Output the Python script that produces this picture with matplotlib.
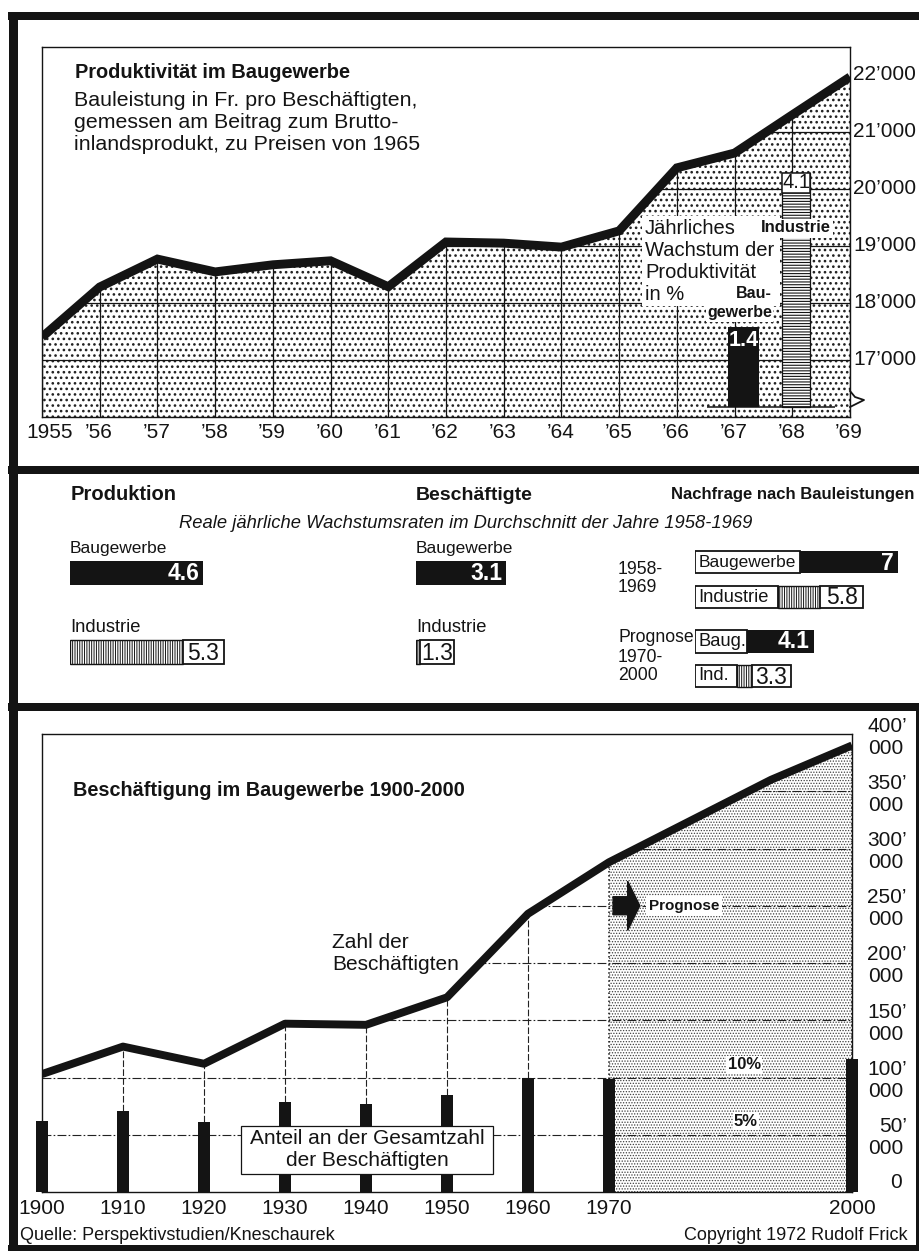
import matplotlib
matplotlib.use("Agg")
import matplotlib.pyplot as plt
from matplotlib import font_manager
from matplotlib.patches import Polygon, Rectangle, FancyArrow
import numpy as np

W, H = 919, 1251
INK = '#141414'

# Produktivität im Baugewerbe, Fr. pro Beschäftigten (Preise 1965)
prod_years = list(range(1955, 1970))
prod_values = [17400, 18280, 18770, 18545, 18670, 18740, 18285, 19070,
               19050, 18980, 19265, 20370, 20630, 21300, 21965]
prod_year_labels = ['1955', '’56', '’57', '’58', '’59', '’60', '’61', '’62',
                    '’63', '’64', '’65', '’66', '’67', '’68', '’69']
prod_ticks = [17000, 18000, 19000, 20000, 21000, 22000]
prod_tick_labels = ['17’000', '18’000', '19’000', '20’000', '21’000', '22’000']
growth_sectors = ['Baugewerbe', 'Industrie']
growth_rates = [1.4, 4.1]          # jährliches Wachstum der Produktivität in %

# Reale jährliche Wachstumsraten 1958-1969
production_rates = [4.6, 5.3]      # Baugewerbe, Industrie
employment_rates = [3.1, 1.3]
demand_labels = ['Baugewerbe', 'Industrie']
demand_short = ['Baug.', 'Ind.']
demand_1958_1969 = [7, 5.8]
demand_1970_2000 = [4.1, 3.3]

# Beschäftigung im Baugewerbe 1900-2000
emp_years = [1900, 1910, 1920, 1930, 1940, 1950, 1960, 1970, 1980, 1990, 2000]
emp_values = [103000, 127000, 112000, 147000, 146000, 170000, 243000,
              288000, 324000, 360000, 390000]
share_years = [1900, 1910, 1920, 1930, 1940, 1950, 1960, 1970, 2000]
share_pct = [6.2, 7.1, 6.1, 7.9, 7.7, 8.5, 10.0, 9.9, 11.6]
emp_xticks = [1900, 1910, 1920, 1930, 1940, 1950, 1960, 1970, 2000]
emp_ticks = [50000, 100000, 150000, 200000, 250000, 300000, 350000, 400000]
emp_tick_labels = ['50’', '100’', '150’', '200’', '250’', '300’', '350’', '400’']

plt.rcParams['font.family'] = ['Liberation Sans', 'DejaVu Sans']
names = {f.name for f in font_manager.fontManager.ttflist}
NARROW = 'Liberation Sans Narrow' in names
COND = ['Liberation Sans Narrow', 'DejaVu Sans'] if NARROW else ['Liberation Sans', 'DejaVu Sans']
if NARROW:
    SZ = dict(head=15.5, nach=14.4, sub=15.5, lab=15, num=19, year=15)
else:
    SZ = dict(head=14.5, nach=12, sub=13.2, lab=12.5, num=16.5, year=12.7)

fig = plt.figure(figsize=(W / 100, H / 100), dpi=100)
fig.patch.set_facecolor('white')


def px_axes(x0, y0, x1, y1):
    return fig.add_axes([x0 / W, 1 - y1 / H, (x1 - x0) / W, (y1 - y0) / H])


def style_spines(ax):
    ax.set_xticks([])
    ax.set_yticks([])
    for s in ax.spines.values():
        s.set_linewidth(1.0)
        s.set_color(INK)


# ---------------- top panel ----------------
ax1 = px_axes(42, 47, 850, 417)
ax1.set_xlim(prod_years[0], prod_years[-1])
ax1.set_ylim(16000, 22490)
style_spines(ax1)

with plt.rc_context({'hatch.linewidth': 1.1}):
    dots = ax1.fill_between(prod_years, 16000, prod_values, facecolor='white',
                            edgecolor='#202020', hatch='...', linewidth=0, zorder=1)

clip1 = Polygon([(prod_years[0], 16000)] + list(zip(prod_years, prod_values)) +
                [(prod_years[-1], 16000)], closed=True, transform=ax1.transData,
                fc='none', ec='none')
ax1.add_patch(clip1)
hl = ax1.hlines(prod_ticks, prod_years[0], prod_years[-1], color=INK, lw=0.9, zorder=2)
hl.set_clip_path(clip1)
ax1.vlines(prod_years, 16000, prod_values, color=INK, lw=0.9, zorder=2)
ax1.plot(prod_years, prod_values, color=INK, lw=6.4, solid_joinstyle='miter',
         solid_capstyle='butt', zorder=5)

for yr, lab in zip(prod_years, prod_year_labels):
    dx = 8 if yr == prod_years[0] else -1
    ax1.annotate(lab, xy=(yr, 0), xycoords=('data', 'axes fraction'),
                 xytext=(dx, -16), textcoords='offset pixels',
                 ha='center', va='center', fontsize=15, color=INK)
for v, lab in zip(prod_ticks, prod_tick_labels):
    ax1.annotate(lab, xy=(1, v), xycoords=('axes fraction', 'data'),
                 xytext=(3, 0), textcoords='offset pixels',
                 ha='left', va='center', fontsize=15, color=INK)

# inset bars: growth of productivity
base = 16175
bar_x = [1967.15, 1968.07]
ax1.bar(bar_x[0], growth_rates[0] * 1000, bottom=base, width=0.54, color=INK, zorder=6)
with plt.rc_context({'hatch.linewidth': 0.8}):
    ax1.bar(bar_x[1], growth_rates[1] * 1000, bottom=base, width=0.49, facecolor='white',
            edgecolor=INK, hatch='------', lw=0.9, zorder=6)
top_ind = base + growth_rates[1] * 1000
ax1.bar(bar_x[1], 340, bottom=top_ind - 340, width=0.49, facecolor='white',
        edgecolor=INK, lw=1.1, zorder=7)
ax1.text(bar_x[1], top_ind - 170, f"{growth_rates[1]:g}", ha='center', va='center',
         fontsize=SZ['num'] - 2, family=COND, color=INK, zorder=8)
ax1.text(bar_x[0], base + growth_rates[0] * 1000 - 230, f"{growth_rates[0]:g}",
         ha='center', va='center', fontsize=SZ['num'] - 1, family=COND,
         fontweight='bold', color='white', zorder=8)
ax1.hlines(base, 1966.52, 1968.74, color=INK, lw=1.1, zorder=6)

# ---------------- middle panel ----------------
PX_PER_UNIT = 29.0


def column_axes(x0, x1):
    ax = px_axes(x0, 475, x1, 703)
    ax.set_xlim(0, (x1 - x0) / PX_PER_UNIT)
    ax.set_ylim(703, 475)
    ax.axis('off')
    return ax


def seg(ax, y, x0, x1, h, kind):
    if kind == 'black':
        ax.barh(y, x1 - x0, left=x0, height=h, color=INK, lw=0)
    elif kind == 'hatch':
        with plt.rc_context({'hatch.linewidth': 0.7}):
            ax.barh(y, x1 - x0, left=x0, height=h, facecolor='white',
                    edgecolor=INK, hatch='|||||||', lw=1.0)
    else:
        ax.barh(y, x1 - x0, left=x0, height=h, facecolor='white',
                edgecolor=INK, lw=1.3)


def num(ax, x, y, v, white=False, ha='center'):
    ax.text(x, y, f"{v:g}", ha=ha, va='center', family=COND,
            fontsize=SZ['num'], fontweight='bold' if white else 'normal',
            color='white' if white else INK)


def lab(ax, x, y, s, size=None, **kw):
    ax.text(x, y, s, ha=kw.pop('ha', 'left'), va='center', family=COND,
            fontsize=size or SZ['lab'], color=INK, **kw)


axP = column_axes(70, 400)
axB = column_axes(416, 600)
axN = column_axes(695, 919)
u = 1 / PX_PER_UNIT

for ax, rates, boxw in ((axP, production_rates, 41 * u),
                        (axB, employment_rates, 34 * u)):
    lab(ax, 0, 548, 'Baugewerbe')
    seg(ax, 573, 0, rates[0], 24, 'black')
    num(ax, rates[0] - 0.12, 574, rates[0], white=True, ha='right')
    lab(ax, 0, 628, 'Industrie', size=SZ['lab'] + 0.7)
    seg(ax, 652, 0, rates[1] - boxw, 24, 'hatch')
    seg(ax, 652, rates[1] - boxw, rates[1], 24, 'box')
    num(ax, rates[1] - boxw / 2, 653, rates[1])

# Nachfrage nach Bauleistungen
v = demand_1958_1969
seg(axN, 562, 0, v[0], 22, 'black')
seg(axN, 562, 0, 105 * u, 22, 'box')
lab(axN, 0.12, 562, demand_labels[0])
num(axN, v[0] - 0.15, 563, v[0], white=True, ha='right')
seg(axN, 597, 0, 83 * u, 22, 'box')
lab(axN, 0.12, 597, demand_labels[1], size=SZ['lab'] + 0.7)
seg(axN, 597, 83 * u, 125 * u, 22, 'hatch')
seg(axN, 597, 125 * u, v[1], 22, 'box')
num(axN, (125 * u + v[1]) / 2, 598, v[1])

v = demand_1970_2000
seg(axN, 641.5, 0, v[0], 23, 'black')
seg(axN, 641.5, 0, 52 * u, 23, 'box')
lab(axN, 0.12, 641.5, demand_short[0], size=SZ['lab'] + 0.7)
num(axN, v[0] - 0.15, 642, v[0], white=True, ha='right')
seg(axN, 676, 0, 42 * u, 22, 'box')
lab(axN, 0.12, 676, demand_short[1], size=SZ['lab'] + 0.7)
seg(axN, 676, 42 * u, 57 * u, 22, 'hatch')
seg(axN, 676, 57 * u, v[1], 22, 'box')
num(axN, (57 * u + v[1]) / 2, 677, v[1])

# ---------------- bottom panel ----------------
ax3 = px_axes(42, 734, 852, 1192)
ax3.set_xlim(1900, 2000)
ax3.set_ylim(0, 400000)
style_spines(ax3)

fut = [i for i, y in enumerate(emp_years) if y >= 1970]
with plt.rc_context({'hatch.linewidth': 0.6}):
    ax3.fill_between([emp_years[i] for i in fut], 0, [emp_values[i] for i in fut],
                     facecolor='white', edgecolor='#404040', hatch='......',
                     linewidth=0, zorder=1)

clip3 = Polygon([(1900, 0)] + list(zip(emp_years, emp_values)) + [(2000, 0)],
                closed=True, transform=ax3.transData, fc='none', ec='none')
ax3.add_patch(clip3)
hl3 = ax3.hlines(emp_ticks[:-1], 1900, 2000, colors='#222222', lw=0.8,
                 linestyles=[(0, (8, 2, 1.5, 2))], zorder=2)
hl3.set_clip_path(clip3)

curve_at = np.interp(share_years, emp_years, emp_values)
bar_tops = [p * 10000 for p in share_pct]
ax3.vlines(share_years[1:7], bar_tops[1:7], curve_at[1:7], colors='#222222', lw=0.8,
           linestyles=[(0, (6, 2))], zorder=2)
ax3.vlines([share_years[7], share_years[8]], [bar_tops[7], bar_tops[8]],
           [curve_at[7], curve_at[8]], colors=INK, lw=1.1, linestyles=':', zorder=2)
ax3.bar(share_years, bar_tops, width=1.6, color=INK, zorder=4, clip_on=False)
ax3.plot(emp_years, emp_values, color=INK, lw=5.7, solid_joinstyle='round',
         solid_capstyle='butt', zorder=5)

ax3.add_patch(FancyArrow(1970.5, 250000, 3.3, 0, width=15700, head_width=43000,
                         head_length=1.5, length_includes_head=True,
                         color=INK, zorder=6))
ax3.text(1974.9, 250000, 'Prognose', ha='left', va='center', fontsize=11,
         fontweight='bold', color=INK, zorder=6,
         bbox=dict(fc='white', ec='none', pad=2))
ax3.text(1986.7, 111000, '10%', ha='center', va='center', fontsize=12,
         fontweight='bold', color=INK, zorder=6, bbox=dict(fc='white', ec='none', pad=1))
ax3.text(1986.9, 62000, '5%', ha='center', va='center', fontsize=12,
         fontweight='bold', color=INK, zorder=6, bbox=dict(fc='white', ec='none', pad=1))

for yr in emp_xticks:
    ax3.annotate(str(yr), xy=(yr, 0), xycoords=('data', 'axes fraction'),
                 xytext=(0, -16), textcoords='offset pixels',
                 ha='center', va='center', fontsize=15, color=INK)
for val, t in zip(emp_ticks, emp_tick_labels):
    ax3.annotate(t, xy=(1, val), xycoords=('axes fraction', 'data'),
                 xytext=(55, 8), textcoords='offset pixels',
                 ha='right', va='center', fontsize=15, color=INK)
    ax3.annotate('000', xy=(1, val), xycoords=('axes fraction', 'data'),
                 xytext=(51, -14), textcoords='offset pixels',
                 ha='right', va='center', fontsize=15, color=INK)
ax3.annotate('0', xy=(1, 0), xycoords=('axes fraction', 'data'),
             xytext=(50, 9), textcoords='offset pixels',
             ha='right', va='center', fontsize=15, color=INK)

# ---------------- overlay: frame and free texts (pixel coordinates) ----------------
axf = fig.add_axes([0, 0, 1, 1])
axf.set_xlim(0, W)
axf.set_ylim(H, 0)
axf.axis('off')


def ftext(x, y, s, **kw):
    kw.setdefault('va', 'center')
    kw.setdefault('color', INK)
    axf.text(x, y, s, **kw)


for xs, ys, lw in (([8, W], [16, 16], 8), ([12.5, 12.5], [12, H], 9),
                   ([8, W], [470, 470], 8), ([8, W], [707, 707], 8),
                   ([8, W], [1248, 1248], 6), ([917, 917], [707, H], 3)):
    axf.plot(xs, ys, color=INK, lw=lw * 0.72, solid_capstyle='butt')

# top texts
ftext(75, 73, 'Produktivität im Baugewerbe', fontsize=14.4, fontweight='bold')
for y, s in ((100, 'Bauleistung in Fr. pro Beschäftigten,'),
             (123, 'gemessen am Beitrag zum Brutto-'),
             (145, 'inlandsprodukt, zu Preisen von 1965')):
    ftext(74, y, s, fontsize=15.4)
axf.add_patch(Rectangle((642, 216), 138, 90, fc='white', ec='none'))
for y, s in ((228, 'Jährliches'), (250, 'Wachstum der'), (272, 'Produktivität'), (295, 'in %')):
    ftext(645, y, s, fontsize=14.5)
ftext(796, 228, growth_sectors[1], fontsize=12, fontweight='bold', ha='center',
      bbox=dict(fc='white', ec='none', pad=1.5))
ftext(772, 293, 'Bau-', fontsize=11.5, fontweight='bold', ha='right')
ftext(772, 313, 'gewerbe', fontsize=11.5, fontweight='bold', ha='right',
      bbox=dict(fc='white', ec='none', pad=1))
axf.plot([850, 855, 864, 850], [391, 397, 400, 407], color=INK, lw=1.3)

# middle texts
ftext(71, 495, 'Produktion', family=COND, fontsize=SZ['head'], fontweight='bold')
ftext(416, 495, 'Beschäftigte', family=COND, fontsize=SZ['head'] - 0.5, fontweight='bold')
ftext(914, 495, 'Nachfrage nach Bauleistungen', family=COND, fontsize=SZ['nach'],
      fontweight='bold', ha='right')
ftext(466, 523, 'Reale jährliche Wachstumsraten im Durchschnitt der Jahre 1958-1969',
      family=COND, fontsize=SZ['sub'], style='italic', ha='center')
for y, s in ((569, '1958-'), (587, '1969'), (637, 'Prognose'), (657, '1970-'), (676, '2000')):
    ftext(618, y, s, family=COND, fontsize=SZ['year'])

# bottom texts
ftext(73, 790, 'Beschäftigung im Baugewerbe 1900-2000', fontsize=14.3, fontweight='bold')
ftext(332, 942, 'Zahl der', fontsize=15)
ftext(332, 965, 'Beschäftigten', fontsize=15)
axf.add_patch(Rectangle((241, 1126), 252, 48, fc='white', ec=INK, lw=0.9))
ftext(367, 1139, 'Anteil an der Gesamtzahl', fontsize=15, ha='center')
ftext(367, 1160, 'der Beschäftigten', fontsize=15, ha='center')
ftext(20, 1236, 'Quelle: Perspektivstudien/Kneschaurek', fontsize=13)
ftext(908, 1236, 'Copyright 1972 Rudolf Frick', fontsize=13, ha='right')

fig.savefig('out.png', dpi=100, facecolor='white')
